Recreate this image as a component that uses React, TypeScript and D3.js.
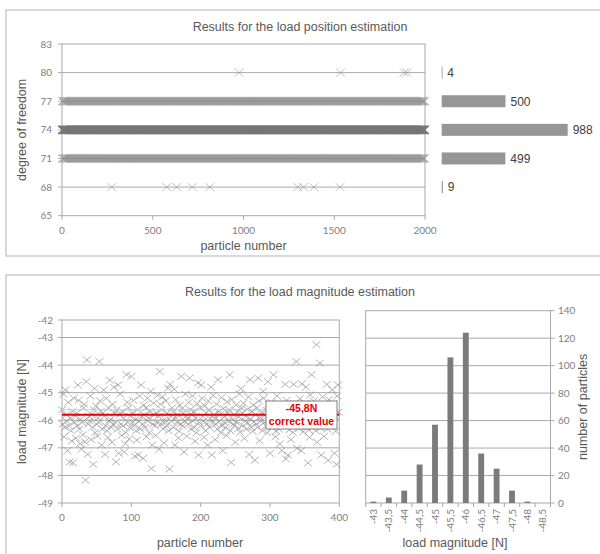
import * as d3 from "d3";

// ---- top chart: degree of freedom found for each particle ----
const dofLevels = [80, 77, 74, 71, 68];
const dofCounts = [4, 500, 988, 499, 9];
// the two sparse rows can be read particle by particle
const dof80Particles = [975, 1535, 1884, 1900];
const dof68Particles = [274, 577, 632, 718, 815, 1299, 1330, 1388, 1532];
const dofTicks = [65, 68, 71, 74, 77, 80, 83];
const particleTicks = [0, 500, 1000, 1500, 2000];

// ---- bottom left: load magnitude estimate of each particle (0..399) ----
const loadMagnitude = [
  -45.62, -46.14, -45.05, -46.6, -46.26, -44.9, -45.8, -46.03, -47.1, -45.35, -46.2, -47.52, -45.92, -46.38, -46.75, -45.68, -47.54, -45.2, -46.08, -45.86,
  -46.65, -45.74, -46.2, -44.72, -45.28, -46.32, -46.85, -45.97, -47.05, -46.08, -46.53, -45.55, -45.42, -46.78, -48.17, -44.6, -43.81, -47.24, -46.14, -45.86,
  -46.03, -45.12, -46.7, -45.8, -46.26, -47.6, -45.62, -44.85, -46.45, -45.48, -46.14, -46.58, -45.92, -46.08, -43.87, -45.3, -45.68, -46.9, -46.32, -45.74,
  -44.9, -45.86, -47.24, -46.2, -45.2, -46.38, -46.62, -45.55, -46.03, -44.55, -45.97, -46.26, -46.8, -45.42, -46.14, -44.8, -45.74, -46.08, -47.51, -45.62,
  -46.32, -44.72, -47.2, -45.8, -45.05, -46.14, -46.55, -45.68, -46.2, -45.92, -47.15, -46.85, -46.45, -44.35, -45.35, -46.08, -45.55, -46.68, -46.26, -45.86,
  -44.41, -45.74, -46.08, -45.28, -46.2, -47.3, -45.97, -46.38, -46.72, -45.62, -47.26, -46.03, -45.12, -46.32, -44.72, -45.86, -46.14, -47.38, -45.45, -45.8,
  -46.26, -45.55, -46.6, -45.2, -46.03, -45.92, -46.45, -45.68, -44.95, -47.75, -46.9, -46.14, -45.38, -45.8, -46.2, -46.55, -45.74, -46.08, -45.1, -45.86,
  -47.05, -44.23, -45.42, -46.14, -45.62, -45.15, -46.32, -46.82, -45.97, -46.08, -45.3, -46.2, -45.74, -44.84, -46.38, -47.77, -44.7, -45.86, -46.03, -45.55,
  -45.68, -46.26, -44.88, -46.9, -45.25, -45.92, -46.08, -45.8, -46.64, -46.4, -45.45, -46.14, -44.41, -45.58, -46.2, -45.74, -47.15, -46.03, -45.05, -45.86,
  -46.58, -45.97, -46.14, -45.35, -44.47, -45.62, -46.32, -45.8, -45.12, -46.03, -45.68, -46.26, -46.76, -45.9, -46.45, -45.4, -44.65, -47.26, -46.08, -45.55,
  -46.2, -44.72, -45.2, -45.86, -46.03, -46.62, -45.48, -46.38, -45.74, -46.14, -46.9, -45.3, -45.62, -46.26, -45.95, -44.8, -47.26, -46.08, -45.1, -45.8,
  -45.92, -46.7, -46.14, -45.42, -46.32, -44.53, -45.68, -46.03, -45.8, -46.45, -45.18, -46.2, -47.1, -45.57, -46.08, -45.86, -46.26, -46.56, -45.33, -45.74,
  -46.03, -45.62, -44.35, -46.38, -47.53, -45.25, -45.97, -46.14, -45.8, -46.2, -46.8, -45.45, -46.08, -45.7, -46.3, -45.88, -45.05, -46.44, -44.85, -45.55,
  -45.74, -46.2, -45.38, -46.66, -46.03, -45.86, -46.32, -45.6, -46.1, -45.15, -47.24, -44.53, -45.95, -46.26, -45.68, -46.4, -45.45, -46.06, -47.45, -45.8,
  -46.14, -45.55, -46.26, -44.47, -45.3, -46.74, -45.9, -46.03, -45.72, -46.38, -44.95, -45.2, -46.08, -45.82, -46.2, -45.64, -46.45, -44.6, -45.42, -45.96,
  -47.2, -46.03, -45.35, -46.26, -45.78, -44.35, -46.14, -45.62, -46.6, -46.4, -45.12, -46.08, -45.92, -46.32, -46.86, -45.7, -46.2, -47.1, -45.45, -45.85,
  -46.2, -45.8, -44.7, -47.4, -45.28, -46.08, -47.26, -45.66, -46.35, -45.94, -46.7, -46.03, -45.58, -46.44, -44.7, -45.4, -46.16, -45.75, -43.87, -47.02,
  -46.08, -45.7, -46.3, -45.22, -46.14, -47.1, -44.68, -45.88, -46.42, -45.6, -46.04, -45.38, -44.8, -46.24, -45.82, -47.55, -46.36, -46.62, -45.08, -45.95,
  -44.35, -45.62, -46.2, -45.3, -46.06, -45.86, -46.38, -43.26, -46.8, -45.45, -46.12, -45.72, -43.93, -46.28, -47.26, -45.92, -45.15, -46.02, -46.58, -45.56,
  -46.14, -45.78, -44.7, -46.32, -47.45, -45.25, -46.04, -45.9, -46.22, -45.64, -44.9, -45.4, -46.1, -47.2, -45.84, -46.4, -47.6, -45.12, -44.72, -45.7,
];
const magnitudeTicks = [-49, -48, -47, -46, -45, -44, -43, -42];
const magParticleTicks = [0, 100, 200, 300, 400];
const correctValue = -45.8;
const estimateMean = -45.62;

// ---- bottom right: histogram of the estimates ----
const binLabels = ["-43", "-43,5", "-44", "-44,5", "-45", "-45,5", "-46", "-46,5", "-47", "-47,5", "-48", "-48,5"];
const binCounts = [1, 4, 9, 28, 57, 106, 124, 36, 25, 9, 1, 0];
const countTicks = [0, 20, 40, 60, 80, 100, 120, 140];

const sans = "'Liberation Sans', Arial, sans-serif";
const tickFont = "Lato, 'Open Sans', sans-serif";
const gridColor = "#a9a9a9";
const tickColor = "#808080";
const titleColor = "#595959";

function cross(x: number, y: number, hw: number, hh: number) {
  return `M${x - hw},${y - hh}L${x + hw},${y + hh}M${x - hw},${y + hh}L${x + hw},${y - hh}`;
}

export default function App() {
  // top scatter
  const xTop = d3.scaleLinear().domain([0, 2000]).range([62, 425]);
  const yTop = d3.scaleLinear().domain([65, 83]).range([215.7, 44]);
  const xCount = d3.scaleLinear().domain([0, 988]).range([0, 126]);
  const barX0 = 441.7;

  const rowParticles = (i: number) => {
    const lvl = dofLevels[i];
    if (lvl === 80) return dof80Particles;
    if (lvl === 68) return dof68Particles;
    // dense rows: too many to read one by one, drawn at their count density
    const n = dofCounts[i];
    return d3.range(n).map((k) => ((k + 0.5) * 2000) / n);
  };

  const topPaths = dofLevels.map((lvl, i) =>
    rowParticles(i).map((p) => cross(xTop(p), yTop(lvl), 4.5, 4)).join("")
  );

  // bottom left scatter (top of frame is squeezed in the original)
  const xMag = d3.scaleLinear().domain([0, 400]).range([62, 339.3]);
  const yMag = d3.scaleLinear().domain([-49, -43, -42]).range([503, 337.5, 320]);
  const magPath = loadMagnitude.map((v, i) => cross(xMag(i), yMag(v), 4, 3.4)).join("");

  // histogram
  const xBin = d3.scaleBand().domain(binLabels).range([365.7, 550.5]).paddingInner(0.62).paddingOuter(0.31);
  const yCnt = d3.scaleLinear().domain([0, 140]).range([503, 310.7]);

  return (
    <svg width={600} height={554} style={{ position: "absolute", left: 0, top: 0, background: "#fff" }}>
      {/* panels */}
      <rect x={6} y={10} width={600} height={246} fill="none" stroke="#cdcdcd" strokeWidth={1.5} />
      <rect x={6} y={275} width={600} height={290} fill="none" stroke="#cdcdcd" strokeWidth={1.5} />

      {/* ===== top chart ===== */}
      <text x={300} y={31} textAnchor="middle" fontFamily={sans} fontSize={12.5} fill={titleColor}>
        Results for the load position estimation
      </text>
      {dofTicks.slice(1, -1).map((t) => (
        <line key={t} x1={xTop(0)} x2={xTop(2000)} y1={yTop(t)} y2={yTop(t)} stroke={gridColor} strokeWidth={1} />
      ))}
      <rect x={xTop(0)} y={yTop(83)} width={xTop(2000) - xTop(0)} height={yTop(65) - yTop(83)} fill="none" stroke={gridColor} />
      {dofTicks.map((t) => (
        <g key={t}>
          <line x1={xTop(0) - 4} x2={xTop(0)} y1={yTop(t)} y2={yTop(t)} stroke={gridColor} />
          <text x={52} y={yTop(t)} dy="0.35em" textAnchor="end" fontFamily={tickFont} fontSize={10} fill={tickColor}>
            {t}
          </text>
        </g>
      ))}
      {particleTicks.map((t) => (
        <g key={t}>
          <line x1={xTop(t)} x2={xTop(t)} y1={yTop(65)} y2={yTop(65) + 4} stroke={gridColor} />
          <text x={xTop(t)} y={230} dy="0.35em" textAnchor="middle" fontFamily={tickFont} fontSize={10} fill={tickColor}>
            {t}
          </text>
        </g>
      ))}
      {topPaths.map((d, i) => (
        <path
          key={i}
          d={d}
          fill="none"
          stroke={dofCounts[i] > 900 ? "#767676" : "#8e8e8e"}
          strokeWidth={0.9}
          strokeOpacity={dofCounts[i] > 900 ? 0.9 : 0.6}
        />
      ))}
      <text x={243.5} y={250} textAnchor="middle" fontFamily={sans} fontSize={12.5} fill={titleColor}>
        particle number
      </text>
      <text transform={`translate(26,${yTop(74)}) rotate(-90)`} textAnchor="middle" fontFamily={sans} fontSize={12.5} fill={titleColor}>
        degree of freedom
      </text>
      {/* counts per degree of freedom */}
      {dofLevels.map((lvl, i) => (
        <g key={lvl}>
          <rect x={barX0} y={yTop(lvl) - 6} width={Math.max(xCount(dofCounts[i]), 0.8)} height={12} fill="#969696" />
          <text x={barX0 + xCount(dofCounts[i]) + 5} y={yTop(lvl)} dy="0.36em" fontFamily={sans} fontSize={12} fill="#404040">
            {dofCounts[i]}
          </text>
        </g>
      ))}

      {/* ===== bottom chart ===== */}
      <text x={300} y={296} textAnchor="middle" fontFamily={sans} fontSize={12.5} fill={titleColor}>
        Results for the load magnitude estimation
      </text>

      {/* scatter */}
      {magnitudeTicks.slice(1, -1).map((t) => (
        <line key={t} x1={xMag(0)} x2={xMag(400)} y1={yMag(t)} y2={yMag(t)} stroke={gridColor} />
      ))}
      <rect x={xMag(0)} y={yMag(-42)} width={xMag(400) - xMag(0)} height={yMag(-49) - yMag(-42)} fill="none" stroke={gridColor} />
      {magnitudeTicks.map((t) => (
        <g key={t}>
          <line x1={xMag(0) - 4} x2={xMag(0)} y1={yMag(t)} y2={yMag(t)} stroke={gridColor} />
          <text x={53} y={yMag(t)} dy="0.35em" textAnchor="end" fontFamily={tickFont} fontSize={10} fill={tickColor}>
            {t}
          </text>
        </g>
      ))}
      {magParticleTicks.map((t) => (
        <g key={t}>
          <line x1={xMag(t)} x2={xMag(t)} y1={yMag(-49)} y2={yMag(-49) + 4} stroke={gridColor} />
          <text x={xMag(t)} y={517} dy="0.35em" textAnchor="middle" fontFamily={tickFont} fontSize={10} fill={tickColor}>
            {t}
          </text>
        </g>
      ))}
      <path d={magPath} fill="none" stroke="#8f8f8f" strokeWidth={0.9} strokeOpacity={0.75} />
      <line x1={xMag(0)} x2={xMag(400)} y1={yMag(estimateMean)} y2={yMag(estimateMean)} stroke="#a9d3e6" strokeWidth={1} />
      <line x1={xMag(0)} x2={xMag(400)} y1={yMag(correctValue)} y2={yMag(correctValue)} stroke="#e60000" strokeWidth={1.8} />
      <rect x={266} y={401} width={71} height={28} fill="#fff" stroke="#7f7f7f" strokeWidth={1} />
      <text x={301.5} y={408.5} dy="0.35em" textAnchor="middle" fontFamily={sans} fontWeight="bold" fontSize={10.5} fill="#e60000">
        -45,8N
      </text>
      <text x={301.5} y={421.5} dy="0.35em" textAnchor="middle" fontFamily={sans} fontWeight="bold" fontSize={10.5} fill="#e60000">
        correct value
      </text>
      <text x={200} y={547} textAnchor="middle" fontFamily={sans} fontSize={12.5} fill={titleColor}>
        particle number
      </text>
      <text transform={`translate(26,${(yMag(-42) + yMag(-49)) / 2}) rotate(-90)`} textAnchor="middle" fontFamily={sans} fontSize={12.5} fill={titleColor}>
        load magnitude [N]
      </text>

      {/* histogram */}
      {countTicks.slice(1, -1).map((t) => (
        <line key={t} x1={365.7} x2={550.5} y1={yCnt(t)} y2={yCnt(t)} stroke={gridColor} />
      ))}
      <rect x={365.7} y={yCnt(140)} width={550.5 - 365.7} height={yCnt(0) - yCnt(140)} fill="none" stroke={gridColor} />
      {binLabels.map((b, i) => (
        <rect key={b} x={xBin(b)} y={yCnt(binCounts[i])} width={xBin.bandwidth()} height={yCnt(0) - yCnt(binCounts[i])} fill="#7b7b7b" />
      ))}
      {countTicks.map((t) => (
        <g key={t}>
          <line x1={550.5} x2={554.5} y1={yCnt(t)} y2={yCnt(t)} stroke={gridColor} />
          <text x={558} y={yCnt(t)} dy="0.35em" fontFamily={tickFont} fontSize={10} fill={tickColor}>
            {t}
          </text>
        </g>
      ))}
      {d3.range(binLabels.length + 1).map((k) => {
        const x = 365.7 + (k * (550.5 - 365.7)) / binLabels.length;
        return <line key={k} x1={x} x2={x} y1={yCnt(0)} y2={yCnt(0) + 4} stroke={gridColor} />;
      })}
      {binLabels.map((b) => (
        <text
          key={b}
          transform={`translate(${(xBin(b) ?? 0) + xBin.bandwidth() / 2},509) rotate(-90)`}
          dy="0.35em"
          textAnchor="end"
          fontFamily={tickFont}
          fontSize={10}
          fill={tickColor}
        >
          {b}
        </text>
      ))}
      <text x={455} y={547} textAnchor="middle" fontFamily={sans} fontSize={12.5} fill={titleColor}>
        load magnitude [N]
      </text>
      <text transform={`translate(587,${(yCnt(0) + yCnt(140)) / 2}) rotate(-90)`} textAnchor="middle" fontFamily={sans} fontSize={12.5} fill={titleColor}>
        number of particles
      </text>
    </svg>
  );
}
